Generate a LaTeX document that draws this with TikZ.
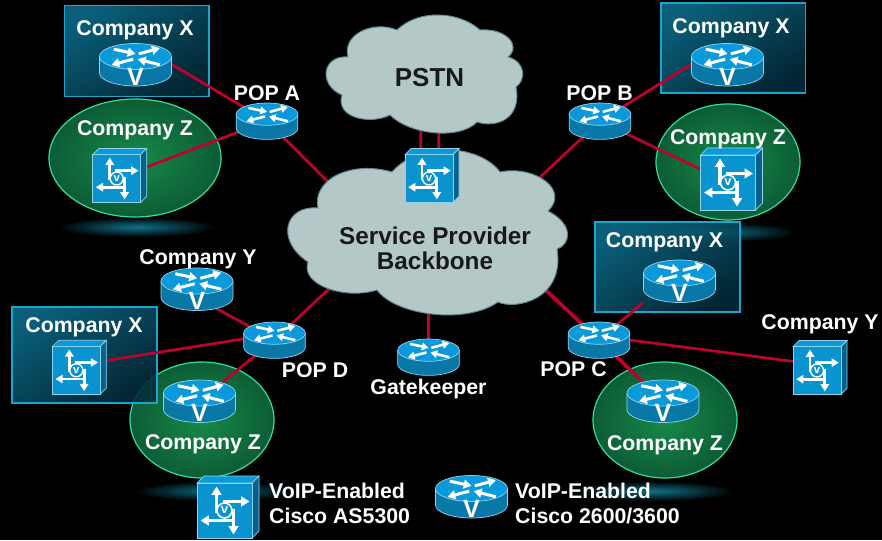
\documentclass[tikz,border=0pt]{standalone}
\usepackage{fontspec}
\setmainfont{Liberation Sans}
\usetikzlibrary{arrows.meta,calc}
\definecolor{linkred}{HTML}{C0002E}
\definecolor{cloudfill}{HTML}{B5C8C8}
\definecolor{cloudedge}{HTML}{5E8A90}
\definecolor{icontop}{HTML}{0A9ADB}
\definecolor{iconface}{HTML}{0994D0}
\definecolor{iconwall}{HTML}{0A78A6}
\definecolor{iconside}{HTML}{05618C}
\definecolor{iconedge}{HTML}{8FD3EA}
\definecolor{glowteal}{HTML}{0E7088}
\definecolor{ovalin}{HTML}{178A48}
\definecolor{ovalout}{HTML}{0C5C36}
\definecolor{ovaledge}{HTML}{2FE098}
\definecolor{boxtop}{HTML}{0C6C8A}
\definecolor{boxbot}{HTML}{042C3C}
\definecolor{boxedge}{HTML}{1AA4D0}
\newcommand{\rtrbody}[1]{
  \path[fill=iconwall,draw=iconedge,line width=.7pt] (-36,-8) -- (-36,8.5) arc[start angle=180,end angle=0,x radius=36,y radius=13] -- (36,-8) -- cycle;
  \path[fill=icontop,draw=iconedge,line width=.7pt] (0,-8) ellipse[x radius=36,y radius=13];
  \begin{scope}[shift={(0,-8)},white,line width=#1*3pt,-{Triangle[length=0pt 2.6,width=0pt 3]}]
    \draw (-21.7,-7.3) -- (0,-2.7);
    \draw (3.3,-2.7) -- (24.3,-8.3);
    \draw (-2.3,2.7) -- (-24,8.3);
    \draw (24.3,8.3) -- (2.3,2.7);
  \end{scope}
}
\tikzset{
  pics/plainrtr/.style={code={
    \begin{scope}[scale=#1]
      \rtrbody{#1}
    \end{scope}
  }},
  pics/vrtr/.style={code={
    \rtrbody{1}
    \node[white,inner sep=0pt,font=\bfseries\fontsize{25}{25}\selectfont] (-v) at (0,12) {V};
  }},
  pics/swbox/.style={code={
    \begin{scope}[scale=#1]
      \path[fill=icontop,draw=iconedge,line width=.7pt] (-27.5,-27.5) -- (-20.5,-34.5) -- (34.5,-34.5) -- (27.5,-27.5) -- cycle;
      \path[fill=iconside,draw=iconedge,line width=.7pt] (27.5,-27.5) -- (34.5,-34.5) -- (34.5,20.5) -- (27.5,27.5) -- cycle;
      \path[fill=iconface,draw=iconedge,line width=.7pt] (-27.5,-27.5) rectangle (27.5,27.5);
      \begin{scope}[white,line width=#1*3.2pt,-{Triangle[length=0pt 2.6,width=0pt 3]}]
        \draw (-8,2) -- (-8,-24);
        \draw (-2,-9) -- (25,-9);
        \draw (8,10) -- (-24,10);
        \draw (9,-2) -- (9,24);
      \end{scope}
      \draw[white,line width=#1*1.6pt,fill=iconface] (0,0) circle[radius=7.5];
      \node[white,inner sep=0pt,transform shape,font=\bfseries\fontsize{13}{13}\selectfont] (-v) at (0,0) {v};
    \end{scope}
  }},
  link/.style={linkred,line width=2.7pt},
  linkb/.style={linkred,line width=3.6pt},
  cloudy/.style={fill=cloudfill,draw=cloudedge,line width=1pt},
  glow/.style={inner color=glowteal,outer color=black},
  sitebox/.style={fill opacity=.88,top color=boxtop,bottom color=boxbot,shading angle=35,draw=boxedge,line width=1.2pt},
  siteoval/.style={inner color=ovalin,outer color=ovalout,draw=ovaledge,line width=1.2pt},
  vsite/.style={inner sep=0pt,outer sep=0pt,minimum width=73pt,minimum height=43pt},
  popsite/.style={inner sep=0pt,outer sep=0pt,minimum width=62pt,minimum height=36pt},
  swsite/.style={inner sep=0pt,outer sep=0pt,minimum width=48pt,minimum height=48pt},
  lbl/.style={white,inner sep=0pt,text height=15pt,text depth=0pt,font=\bfseries\fontsize{21.3}{25}\selectfont},
  dark/.style={text=black!90,inner sep=0pt,align=center,font=\bfseries\fontsize{24.3}{25}\selectfont},
  legend/.style={white,inner sep=0pt,align=left,anchor=west,font=\bfseries\fontsize{21.3}{25}\selectfont},
}
\begin{document}
\begin{tikzpicture}[x=1pt,y=-1pt]
  \fill[black] (0,0) rectangle (882,540);
  \useasboundingbox (0,0) rectangle (882,540);

  \foreach \xx/\yy in {137/227,717/232,215/491,654/491} {
    \path[glow] (\xx,\yy) ellipse[x radius=80,y radius=10];
  }
  \foreach \xx/\yy/\rx/\ry in {135/158/86/59,728/162/72/58,202/420/72/58,665/420/72/58} {
    \path[siteoval] (\xx,\yy) ellipse[x radius=\rx,y radius=\ry];
  }
  \foreach \xa/\ya/\xb/\yb in {64.5/5.5/209/96.5,661/3/805.5/93,595/222/740/312,12/307/157/403} {
    \path[sitebox] (\xa,\ya) rectangle (\xb,\yb);
  }

  \foreach \nm/\xx/\yy in {cox1/135.5/64.5,cox2/727.5/64.5,cox3/679.5/281,coy1/197/289,coz3/199.5/401,coz4/663/401,vleg/471.5/496.5} {
    \node[vsite] (\nm) at (\xx,\yy) {};
  }
  \foreach \nm/\xx/\yy in {popa/267/121,popb/600/121,popc/599/340,popd/274.5/340,gatekp/428.5/357} {
    \node[popsite] (\nm) at (\xx,\yy) {};
  }
  \foreach \nm/\xx/\yy in {swz1/116.7/178.5,swz2/728/182.5,swpstn/429/178.5,swx/76.3/370.3,swy/817/370.5,swleg/224.5/510.5} {
    \node[swsite] (\nm) at (\xx,\yy) {};
  }
  \coordinate (bba) at (345,199);
  \coordinate (bbb) at (520,196);
  \coordinate (bbc) at (520,266);
  \coordinate (bbd) at (350,269);
  \coordinate (bbg) at (428.5,280);
  \coordinate (pstnc) at (429.5,77);

  \draw[link] (cox1.east) -- (popa.center);
  \draw[link] (swz1.center) -- (popa.center);
  \draw[link] (popa.center) -- (bba);
  \draw[link] (cox2.west) -- (popb.center);
  \draw[link] (swz2.center) -- (popb.center);
  \draw[link] (popb.center) -- (bbb);
  \draw[link] ([shift={(-8.5,0)}]swpstn.center) -- ([shift={(-8.5,0)}]pstnc);
  \draw[link] ([shift={(9.5,0)}]swpstn.center) -- ([shift={(9.5,0)}]pstnc);
  \draw[link] ([shift={(0,9)}]coy1.center) -- (popd.center);
  \draw[link] ([shift={(0,-5)}]swx.center) -- ([shift={(0,-6)}]popd.center);
  \draw[link] (coz3.center) -- (popd.center);
  \draw[link] (popd.center) -- (bbd);
  \draw[link] (gatekp.center) -- (bbg);
  \draw[linkb] (popc.center) -- (bbc);
  \draw[link] (cox3.south west) -- (popc.center);
  \draw[link] ([shift={(0,-6)}]swy.center) -- ([shift={(0,-4)}]popc.center);
  \draw[linkb] (coz4.center) -- (popc.center);

  \path[cloudy] (348,57) .. controls (342,35) and (372,20) .. (397,30)
    .. controls (420,8) and (460,12) .. (480,30)
    .. controls (505,28) and (522,45) .. (508,57)
    .. controls (526,62) and (526,80) .. (516,87)
    .. controls (522,120) and (495,128) .. (477,122)
    .. controls (460,140) and (410,135) .. (390,115)
    .. controls (370,125) and (335,118) .. (342,95)
    .. controls (318,85) and (322,55) .. (348,57) -- cycle;
  \path[cloudy] (318,208) .. controls (312,180) and (350,160) .. (392,172)
    .. controls (420,140) and (480,145) .. (500,172)
    .. controls (535,165) and (570,190) .. (548,211)
    .. controls (575,225) and (570,245) .. (557,249)
    .. controls (565,300) and (515,310) .. (498,302)
    .. controls (465,325) and (395,315) .. (377,290)
    .. controls (345,300) and (300,285) .. (308,262)
    .. controls (275,240) and (285,205) .. (318,208) -- cycle;
  \node[text=black!90,inner sep=0pt,text height=18.6pt,text depth=0pt,font=\bfseries\fontsize{26}{26}\selectfont] (pstn) at (pstnc) {PSTN};
  \node[dark] (bbone) at (435,248) {Service Provider\\Backbone};

  \foreach \nm in {cox1,cox2,cox3,coy1,coz3,coz4,vleg} {
    \pic (\nm) at (\nm) {vrtr};
  }
  \foreach \nm in {popa,popb,popc,popd,gatekp} {
    \pic (\nm) at (\nm) {plainrtr=0.855};
  }
  \foreach \nm/\sz in {swz1/0.87,swz2/1,swpstn/0.87,swx/0.87,swy/0.87,swleg/1} {
    \pic (\nm) at (\nm) {swbox=\sz};
  }

  \foreach \nm/\xx/\yy/\txt in {lxa/135/28/Company X,lza/135/128.5/Company Z,lpa/267/93/POP A,lpb/599.5/93/POP B,
      lxb/731/26/Company X,lzb/728/137/Company Z,lxc/664.5/240/Company X,lyr/820/322/Company Y,lpc/573.5/369/POP C,
      lzc/665/443/Company Z,lyl/198/257/Company Y,lxl/84/325/Company X,lpd/315/370/POP D,lzd/203/442/Company Z,lgk/428.5/387/Gatekeeper} {
    \node[lbl] (\nm) at (\xx,\yy) {\txt};
  }
  \node[legend] (legsw) at (269,503) {VoIP-Enabled\\Cisco AS5300};
  \node[legend] (legrt) at (515,503) {VoIP-Enabled\\Cisco 2600/3600};
\end{tikzpicture}
\end{document}
